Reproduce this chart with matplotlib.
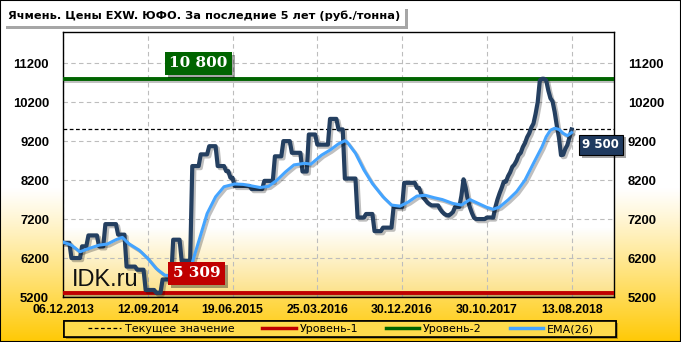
import numpy as np
import matplotlib
matplotlib.use('Agg')
import matplotlib.pyplot as plt
import matplotlib.patheffects as pe
from matplotlib.lines import Line2D
from matplotlib.patches import Rectangle

plt.rcParams['font.family'] = ['DejaVu Sans']

title = 'Ячмень. Цены EXW. ЮФО. За последние 5 лет (руб./тонна)'
date_labels = ['06.12.2013', '12.09.2014', '19.06.2015', '25.03.2016',
               '30.12.2016', '30.10.2017', '13.08.2018']
label_step = 40  # weeks between date labels
y_ticks = [5200, 6200, 7200, 8200, 9200, 10200, 11200]
legend_labels = ['Текущее значение', 'Уровень-1', 'Уровень-2', 'EMA(26)']

# weekly prices, stored as (level, number of weeks at that level)
price_levels = [6590, 6200, 6500, 6780, 6500, 7070, 6800, 5980, 5900, 5380,
                5309, 5650, 6670, 6130, 8560, 8860, 9070, 8560, 8430, 8260,
                8050, 7970, 8180, 8810, 9200, 8900, 8420, 9370, 9110, 9770,
                9500, 8240, 7240, 7330, 6890, 6980, 7510, 8130, 8000, 7850,
                7750, 7690, 7620, 7580, 7550, 7450, 7380, 7330, 7300, 7290,
                7330, 7380, 7510, 7800, 8220, 8000, 7690, 7500, 7350, 7230,
                7200, 7240, 7500, 7700, 7860, 8000, 8160, 8300, 8400, 8540,
                8600, 8700, 8840, 8900, 9050, 9150, 9300, 9400, 9550, 9650,
                9900, 10200, 10760, 10800, 10760, 10500, 10300, 10220, 9950, 9600,
                9300, 8840, 8850, 9000, 9100, 9300, 9500]
price_weeks = [4, 5, 3, 5, 3, 6, 4, 5, 4, 5,
               3, 5, 4, 5, 4, 4, 4, 4, 2, 2,
               8, 6, 5, 4, 4, 5, 3, 4, 6, 4,
               3, 6, 4, 4, 4, 5, 5, 6, 2, 1,
               1, 1, 1, 1, 4, 1, 1, 1, 1, 1,
               1, 1, 3, 1, 1, 1, 1, 1, 1, 1,
               5, 4, 1, 1, 1, 1, 2, 1, 1, 1,
               1, 1, 1, 1, 1, 1, 1, 1, 1, 1,
               1, 1, 1, 2, 1, 1, 1, 1, 1, 1,
               1, 1, 1, 1, 1, 1, 1]

# EMA(26)
ema_weeks = [0, 4, 8, 12, 17, 21, 25, 28, 31, 36, 40, 44, 48, 52, 56, 60, 61, 64,
             68, 72, 76, 81, 85, 89, 93, 97, 101, 105, 109, 114, 117, 122, 126, 130,
             133, 134, 138, 142, 146, 151, 155, 159, 163, 167, 171, 175, 179, 184,
             188, 192, 196, 200, 203, 206, 210, 214, 218, 222, 226, 228, 230, 232,
             234, 236, 238, 240]
ema_values = [6610, 6530, 6360, 6440, 6530, 6560, 6670, 6730, 6570, 6400, 6190, 5930,
              5760, 5740, 5830, 5870, 6080, 6620, 7340, 7770, 8030, 8100, 8090, 8050,
              8010, 8040, 8200, 8410, 8590, 8630, 8610, 8840, 8970, 9130, 9210, 9180,
              8890, 8460, 8110, 7770, 7560, 7530, 7640, 7790, 7810, 7750, 7700, 7600,
              7560, 7700, 7600, 7500, 7450, 7510, 7690, 7900, 8200, 8630, 9050, 9310,
              9480, 9530, 9500, 9400, 9340, 9420]

price = np.repeat(price_levels, price_weeks)
weeks = np.arange(len(price))
level_1 = price.min()
level_2 = price.max()
current = price[-1]


def fmt(v):
    return f'{int(v):,}'.replace(',', ' ')


W, H = 681, 342
fig = plt.figure(figsize=(W / 100, H / 100), dpi=100)

# figure background: white -> gold
bg = fig.add_axes([0, 0, 1, 1], zorder=-10)
bg.axis('off')
t = np.linspace(0, 1, 300)
k = np.clip((t - 0.55) / 0.45, 0, 1) ** 1.1
top = np.array([1.0, 1.0, 1.0])
bot = np.array([1.0, 0.79, 0.02])
grad = (top[None, :] * (1 - k[:, None]) + bot[None, :] * k[:, None])[:, None, :]
bg.imshow(grad, extent=[0, 1, 0, 1], aspect='auto')
bg.set_xlim(0, 1)
bg.set_ylim(0, 1)

ax = fig.add_axes([63 / W, 1 - 297 / H, (614 - 63) / W, (297 - 32) / H])
k2 = np.clip((t - 0.74) / 0.26, 0, 1)
bot2 = np.array([0.99, 0.88, 0.52])
grad2 = (top[None, :] * (1 - k2[:, None]) + bot2[None, :] * k2[:, None])[:, None, :]
ax.imshow(grad2, extent=[0, 1, 0, 1], transform=ax.transAxes, aspect='auto', zorder=0)

shadow = [pe.SimpleLineShadow(offset=(1.5, -1.5), shadow_color='black', alpha=0.25), pe.Normal()]

ax.axhline(current, color='black', ls=(0, (3, 2)), lw=0.9, zorder=3)
ax.axhline(level_1, color='#c00000', lw=2.8, zorder=3, path_effects=shadow)
ax.axhline(level_2, color='#006400', lw=2.8, zorder=3, path_effects=shadow)
ax.text(0.016, 0.04, 'IDK.ru', transform=ax.transAxes, fontsize=17,
        family='Liberation Sans', color='#111111', zorder=2)
ax.plot(weeks, price, color='#243f60', lw=3, zorder=4, path_effects=shadow,
        solid_joinstyle='round')
ax.plot(ema_weeks, ema_values, color='#44a4ff', lw=2.2, zorder=5, path_effects=shadow)

box_shadow = [pe.withSimplePatchShadow(offset=(2, -2), shadow_rgbFace='black', alpha=0.35)]
labels = [
    (64, level_2, (0, 11), '#006400'),
    (63, level_1, (0, 14), '#c00000'),
]
for x, v, off, col in labels:
    a = ax.annotate(fmt(v), xy=(x, v), xytext=off, textcoords='offset points',
                    ha='center', va='center', color='white', fontsize=11,
                    fontweight='bold', family='DejaVu Serif', zorder=6,
                    bbox=dict(boxstyle='square,pad=0.3', fc=col, ec='none'))
    a.get_bbox_patch().set_path_effects(box_shadow)
a = ax.annotate(fmt(current), xy=(weeks[-1], current), xytext=(21, -11),
                textcoords='offset points', ha='center', va='center', color='white',
                fontsize=8.5, fontweight='bold', zorder=6, annotation_clip=False,
                bbox=dict(boxstyle='square,pad=0.3', fc='#1f3a5f', ec='black', lw=0.8))
a.get_bbox_patch().set_path_effects(box_shadow)

ax.set_xlim(0, 260)
ax.set_ylim(5200, 12000)
ax.set_xticks(np.arange(len(date_labels)) * label_step)
ax.set_xticklabels(date_labels)
ax.set_yticks(y_ticks)
ax.grid(color='#bdbdbd', ls=(0, (4, 3)), lw=0.8, zorder=1)
ax.set_axisbelow(True)
ax.tick_params(axis='both', length=0)
ax.tick_params(axis='y', labelleft=True, labelright=True, pad=10)
ax.tick_params(axis='x', pad=5)
for tick in ax.yaxis.get_major_ticks():
    for lab in (tick.label1, tick.label2):
        lab.set_fontfamily('Liberation Sans')
        lab.set_fontweight('bold')
        lab.set_fontsize(9.4)
for lab in ax.get_xticklabels():
    lab.set_fontfamily('Liberation Sans')
    lab.set_fontweight('bold')
    lab.set_fontsize(8.8)
for s in ax.spines.values():
    s.set_color('black')
    s.set_linewidth(1)

ttl = fig.text(8 / W, 1 - 16 / H, title, fontsize=8.2, fontweight='bold',
               ha='left', va='center',
               bbox=dict(boxstyle='square,pad=0.4', fc='white', ec='none'))
ttl.get_bbox_patch().set_path_effects(box_shadow)

# legend frame drawn as a figure patch, entries centered inside it
frame = Rectangle((64 / W, 1 - 337 / H), 552 / W, 16 / H, transform=fig.transFigure,
                  fc='#ffdb4d', ec='black', lw=1.2, zorder=1)
frame.set_path_effects([pe.withSimplePatchShadow(offset=(1.5, -1.5), alpha=0.4), pe.Normal()])
fig.patches.append(frame)
handles = [Line2D([], [], color='black', ls=(0, (3, 2)), lw=0.9),
           Line2D([], [], color='#c00000', lw=2.5),
           Line2D([], [], color='#006400', lw=2.5),
           Line2D([], [], color='#44a4ff', lw=2.5)]
leg = fig.legend(handles, legend_labels, loc='center',
                 bbox_to_anchor=(341 / W, 1 - 329 / H), ncol=4, frameon=False,
                 fontsize=8, handlelength=3, handletextpad=0.35,
                 columnspacing=2.5, borderpad=0)

fig.patches.append(Rectangle((0, 0), 1, 1, transform=fig.transFigure, fill=False,
                             ec='black', lw=1.5))

fig.savefig('out.png', dpi=100)
